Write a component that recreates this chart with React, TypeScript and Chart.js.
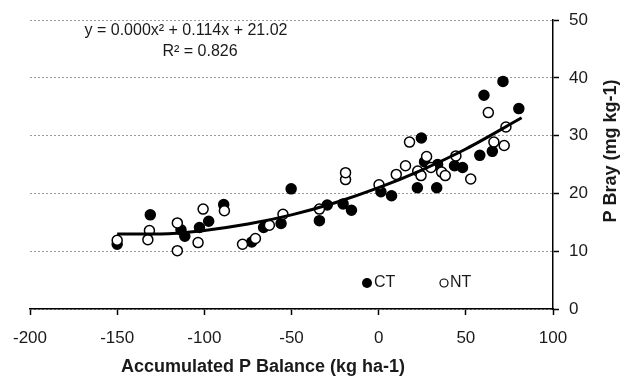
import { useEffect, useRef } from "react";
import { Chart, registerables } from "chart.js";

Chart.register(...registerables);

// CT (filled circles)
const ctX = [-150, -131, -113.4, -111.2, -102.8, -97.5, -88.9, -72.8, -66, -56, -50.2, -34, -29.5, -20.4, -15.6, 1.3, 7.4, 22.2, 24.5, 26.3, 33.3, 33.8, 43.5, 48.1, 58, 60.4, 65.2, 71.3, 80.4];
const ctY = [11.2, 16.3, 13.7, 12.6, 14.1, 15.2, 18.1, 11.6, 14.1, 14.8, 20.8, 15.3, 18.0, 18.2, 17.1, 20.3, 19.6, 21.0, 29.6, 25.5, 21.0, 25.0, 24.8, 24.5, 26.6, 37.0, 27.3, 39.4, 34.7];

// NT (open circles)
const ntX = [-150, -131.5, -132.4, -115.5, -115.5, -103.6, -100.7, -88.5, -78.1, -70.7, -62.7, -54.9, -34, -19, -19, 0.2, 10.1, 15.4, 17.7, 22.4, 24.3, 27.5, 30, 36.1, 38.2, 44.3, 52.8, 62.9, 66.1, 72, 73];
const ntY = [11.9, 13.6, 12.0, 14.9, 10.1, 11.5, 17.3, 17.0, 11.2, 12.2, 14.5, 16.4, 17.3, 22.4, 23.6, 21.5, 23.3, 24.8, 28.9, 23.9, 23.1, 26.4, 24.5, 23.7, 23.1, 26.5, 22.5, 34.0, 28.9, 28.3, 31.5];

// Trend line (polynomial fit)
const trendX = [-150, -125, -100, -75, -50, -25, 0, 25, 50, 82];
const trendY = [13.0, 13.0, 13.6, 14.7, 16.3, 18.4, 21.0, 24.1, 27.7, 33.1];

const xMin = -200;
const xMax = 100;
const xStep = 50;
const yMin = 0;
const yMax = 50;
const yStep = 10;

const equationText = "y = 0.000x\u00B2 + 0.114x + 21.02";
const r2Text = "R\u00B2 = 0.826";
const xTitle = "Accumulated P Balance (kg ha-1)";
const yTitle = "P Bray (mg kg-1)";
const seriesNames = ["CT", "NT"];

const FONT = "'Liberation Sans', Arial, Helvetica, sans-serif";

const toPts = (xs: number[], ys: number[]) => xs.map((x, i) => ({ x, y: ys[i] }));

const overlayPlugin = {
  id: "overlay",
  beforeDraw(chart: any) {
    const ctx = chart.ctx;
    ctx.save();
    ctx.fillStyle = "#ffffff";
    ctx.fillRect(0, 0, chart.width, chart.height);
    ctx.restore();
  },
  afterDraw(chart: any) {
    const ctx = chart.ctx;
    ctx.save();
    ctx.fillStyle = "#1a1a1a";
    // equation
    ctx.font = `16px ${FONT}`;
    ctx.textAlign = "center";
    ctx.textBaseline = "middle";
    ctx.fillText(equationText, 186, 31);
    ctx.fillText(r2Text, 200, 52);

    // x title
    ctx.font = `bold 18px ${FONT}`;
    ctx.fillText(xTitle, 263, 367);

    // y title
    ctx.save();
    ctx.translate(611, 151);
    ctx.rotate(-Math.PI / 2);
    ctx.fillText(yTitle, 0, 0);
    ctx.restore();

    // legend
    ctx.font = `16px ${FONT}`;
    ctx.textAlign = "left";
    ctx.beginPath();
    ctx.arc(367, 283, 5, 0, Math.PI * 2);
    ctx.fillStyle = "#000";
    ctx.fill();
    ctx.fillStyle = "#1a1a1a";
    ctx.fillText(seriesNames[0], 374, 283);

    ctx.beginPath();
    ctx.arc(444, 283, 4, 0, Math.PI * 2);
    ctx.fillStyle = "#fff";
    ctx.fill();
    ctx.lineWidth = 1.2;
    ctx.strokeStyle = "#000";
    ctx.stroke();
    ctx.fillStyle = "#1a1a1a";
    ctx.fillText(seriesNames[1], 450, 283);
    ctx.restore();
  },
};

export default function App() {
  const ref = useRef<HTMLCanvasElement>(null);
  useEffect(() => {
    document.body.style.margin = "0";
    const chart = new Chart(ref.current as HTMLCanvasElement, {
      type: "scatter",
      data: {
        datasets: [
          {
            label: "Trend",
            data: toPts(trendX, trendY),
            showLine: true,
            borderColor: "#000",
            borderWidth: 3,
            pointRadius: 0,
            tension: 0.4,
            cubicInterpolationMode: "monotone",
            order: -1,
          } as any,
          {
            label: seriesNames[1],
            data: toPts(ntX, ntY),
            backgroundColor: "#fff",
            borderColor: "#000",
            borderWidth: 1.5,
            pointRadius: 5,
            order: 0,
          },
          {
            label: seriesNames[0],
            data: toPts(ctX, ctY),
            backgroundColor: "#000",
            borderColor: "#000",
            borderWidth: 1.5,
            pointRadius: 5,
            order: 1,
          },
        ],
      },
      options: {
        responsive: false,
        animation: false,
        devicePixelRatio: 1,
        layout: { padding: { left: 28, top: 15, right: 0, bottom: 0 } },
        plugins: {
          legend: { display: false },
          tooltip: { enabled: false },
        },
        scales: {
          x: {
            type: "linear",
            position: "bottom",
            min: xMin,
            max: xMax,
            afterFit: (s: any) => {
              s.height = 73;
            },
            ticks: {
              stepSize: xStep,
              color: "#1a1a1a",
              font: { family: FONT, size: 17 },
              padding: 13,
              maxRotation: 0,
            },
            grid: {
              display: true,
              drawOnChartArea: false,
              drawTicks: true,
              tickLength: 6,
              tickColor: "#000",
              tickWidth: 1.5,
            },
            border: { display: true, color: "#000", width: 1.5 },
          },
          y: {
            type: "linear",
            position: "right",
            min: yMin,
            max: yMax,
            afterFit: (s: any) => {
              s.width = 73;
            },
            ticks: {
              stepSize: yStep,
              color: "#1a1a1a",
              font: { family: FONT, size: 17 },
              padding: 10,
            },
            grid: {
              display: true,
              drawOnChartArea: true,
              color: "#9a9a9a",
              lineWidth: 1,
              drawTicks: true,
              tickLength: 6,
              tickColor: "#000",
              tickWidth: 1.5,
              tickBorderDash: [],
            },
            border: { display: true, color: "#000", width: 1.5, dash: [2, 2] },
          },
        },
      } as any,
      plugins: [overlayPlugin],
    });
    return () => chart.destroy();
  }, []);
  return (
    <div style={{ position: "fixed", left: 0, top: 0, width: 626, height: 382, background: "#fff" }}>
      <canvas ref={ref} width={626} height={382} style={{ display: "block" }} />
    </div>
  );
}
